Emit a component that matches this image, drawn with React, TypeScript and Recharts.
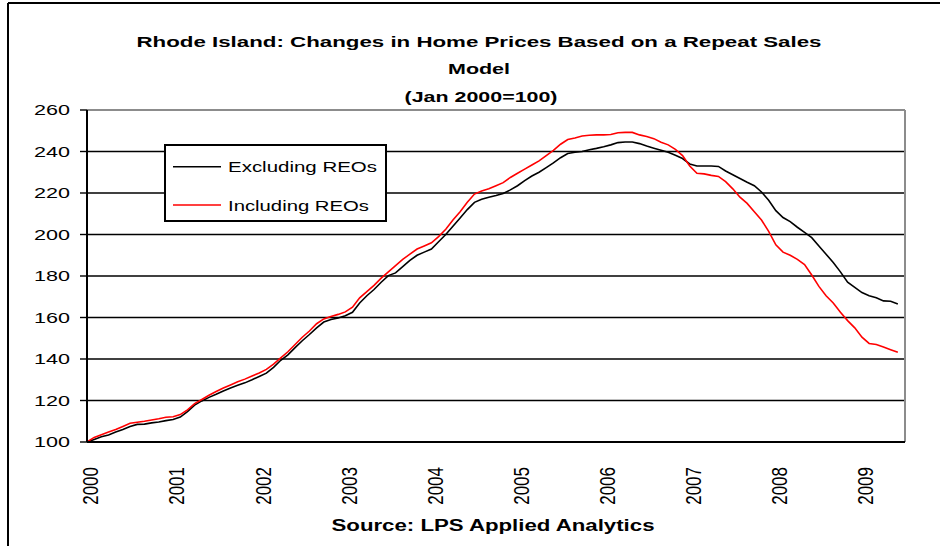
import React from 'react';
import { LineChart, Line, XAxis, YAxis, CartesianGrid, ReferenceLine } from 'recharts';

// Monthly index values, Jan 2000 .. Jun 2009 (Jan 2000 = 100)
const years = [2000, 2001, 2002, 2003, 2004, 2005, 2006, 2007, 2008, 2009];
const yTicks = [100, 120, 140, 160, 180, 200, 220, 240, 260];

const excludingREOs = [
  100.0, 101.2, 102.5, 103.4, 104.8, 106.0, 107.5, 108.5, 108.6, 109.2, 109.6, 110.3,
  110.8, 112.0, 114.6, 117.8, 119.8, 121.5, 123.0, 124.6, 126.0, 127.3, 128.5, 130.0,
  131.6, 133.2, 136.0, 139.4, 142.0, 145.5, 148.8, 151.8, 155.0, 157.8, 159.0, 159.8,
  160.8, 162.5, 167.0, 170.5, 173.5, 177.0, 180.2, 181.5, 184.5, 187.5, 190.0, 191.5,
  193.0, 196.5, 200.0, 204.0, 208.0, 212.0, 215.5, 217.0, 218.0, 218.8, 219.8, 221.5,
  223.5, 226.0, 228.2, 230.0, 232.2, 234.5, 237.0, 239.0, 239.6, 240.0, 240.8, 241.5,
  242.3, 243.2, 244.3, 244.6, 244.6, 243.8, 242.6, 241.6, 240.6, 239.6, 238.2, 236.6,
  234.0, 233.0, 233.0, 233.0, 232.8, 230.6, 228.8, 227.0, 225.2, 223.5, 220.5, 216.5,
  211.5, 208.2, 206.2, 203.5, 201.0, 198.5, 194.5, 190.5, 186.5, 182.0, 177.0, 174.5,
  172.0, 170.5, 169.5, 168.0, 167.8, 166.5,
];

const includingREOs = [
  100.0, 102.2, 103.5, 104.8, 106.0, 107.5, 109.0, 109.5, 110.0, 110.6, 111.2, 111.9,
  112.2, 113.2, 115.5, 118.5, 120.5, 122.5, 124.3, 126.0, 127.5, 129.0, 130.3, 131.8,
  133.3, 135.0, 137.5, 140.5, 143.5, 147.0, 150.5, 153.5, 157.0, 159.3, 160.5, 161.5,
  162.7, 165.0, 169.5, 172.5, 175.5, 179.0, 182.0, 185.0, 188.0, 190.5, 193.0, 194.5,
  196.0, 199.0, 202.5, 207.0, 211.0, 215.5, 219.5, 221.0, 222.0, 223.5, 225.0, 227.5,
  229.5, 231.5, 233.5, 235.5, 238.0, 240.5, 243.5, 245.8, 246.5, 247.5, 247.8, 248.0,
  248.0, 248.2, 249.0, 249.2, 249.2, 248.0, 247.2, 246.2, 244.5, 243.2, 241.0, 238.0,
  233.0, 229.5, 229.2, 228.5, 228.0, 225.5, 222.0, 218.0, 215.0, 211.0, 207.0, 201.5,
  195.0, 191.5, 190.0, 188.0, 185.5, 180.5, 175.0, 170.5, 167.0, 162.5, 158.5, 155.0,
  150.5, 147.5, 147.0, 145.8, 144.5, 143.2,
];

const seriesKeys = ['excl', 'incl'];
const seriesNames = ['Excluding REOs', 'Including REOs'];
const seriesColors = ['#000000', '#ff0000'];
const legendTextWidths = [149, 141];

const data = excludingREOs.map((v, i) => ({ m: i, excl: v, incl: includingREOs[i] }));
const monthTicks = years.map((_, i) => i * 12);

const FONT = '"Liberation Sans", Arial, sans-serif';

function YTick({ x, y, payload }: any) {
  return (
    <text
      x={x}
      y={y}
      dy={5.3}
      textAnchor="end"
      fontSize={15}
      fontFamily={FONT}
      fill="#000"
      textLength={36}
      lengthAdjust="spacingAndGlyphs"
    >
      {payload.value}
    </text>
  );
}

function XTick({ x, y, payload }: any) {
  const label = years[Math.round(payload.value / 12)];
  return (
    <text
      transform={`translate(${x + 11.3},${y + 25}) scale(1.3,1) rotate(-90)`}
      textAnchor="end"
      fontSize={17}
      fontFamily={FONT}
      fill="#000"
    >
      {label}
    </text>
  );
}

export default function App() {
  return (
    <div style={{ position: 'absolute', left: 0, top: 0, width: 940, height: 546, background: '#fff' }}>
      <LineChart
        width={940}
        height={546}
        data={data}
        margin={{ top: 110, right: 35, bottom: 74, left: 0 }}
      >
        <CartesianGrid vertical={false} stroke="#000" strokeWidth={1.4} />
        <XAxis
          dataKey="m"
          type="number"
          domain={[0, 114]}
          ticks={monthTicks}
          height={30}
          tickLine={false}
          tickSize={0}
          tickMargin={0}
          axisLine={{ stroke: '#000', strokeWidth: 2 }}
          tick={<XTick />}
          interval={0}
        />
        <YAxis
          domain={[100, 260]}
          ticks={yTicks}
          width={87}
          tickSize={7}
          tickMargin={10}
          interval={0}
          axisLine={{ stroke: '#000', strokeWidth: 2 }}
          tickLine={{ stroke: '#000', strokeWidth: 1.4 }}
          tick={<YTick />}
        />
        <ReferenceLine y={260} stroke="#8c8c8c" strokeWidth={2} />
        <ReferenceLine x={114} stroke="#8c8c8c" strokeWidth={2} />
        {seriesKeys.map((k, i) => (
          <Line
            key={k}
            dataKey={k}
            name={seriesNames[i]}
            type="linear"
            stroke={seriesColors[i]}
            strokeWidth={1.6}
            dot={false}
            isAnimationActive={false}
          />
        ))}
      </LineChart>

      <svg
        width={940}
        height={546}
        style={{ position: 'absolute', left: 0, top: 0, pointerEvents: 'none' }}
      >
        {/* chart area frame */}
        <line x1={8} y1={3} x2={940} y2={3} stroke="#000" strokeWidth={2} />
        <line x1={8} y1={3} x2={8} y2={546} stroke="#000" strokeWidth={2} />

        <g fontFamily={FONT} fontWeight="bold" fontSize={15.5} fill="#000">
          <text x={479} y={47} textAnchor="middle" textLength={685} lengthAdjust="spacingAndGlyphs">
            Rhode Island: Changes in Home Prices Based on a Repeat Sales
          </text>
          <text x={479} y={74} textAnchor="middle" textLength={62} lengthAdjust="spacingAndGlyphs">
            Model
          </text>
          <text x={481} y={102} textAnchor="middle" textLength={153} lengthAdjust="spacingAndGlyphs">
            (Jan 2000=100)
          </text>
          <text x={493} y={531} textAnchor="middle" fontSize={16} textLength={323} lengthAdjust="spacingAndGlyphs">
            Source: LPS Applied Analytics
          </text>
        </g>

        {/* legend */}
        <rect x={165} y={145} width={221} height={76} fill="#fff" stroke="#000" strokeWidth={2} />
        {seriesNames.map((name, i) => {
          const cy = 166.7 + i * 38.3;
          return (
            <g key={name}>
              <line x1={173} y1={cy} x2={221} y2={cy} stroke={seriesColors[i]} strokeWidth={1.6} />
              <text
                x={228}
                y={cy + 5.5}
                fontFamily={FONT}
                fontSize={15}
                fill="#000"
                textLength={legendTextWidths[i]}
                lengthAdjust="spacingAndGlyphs"
              >
                {name}
              </text>
            </g>
          );
        })}
      </svg>
    </div>
  );
}
